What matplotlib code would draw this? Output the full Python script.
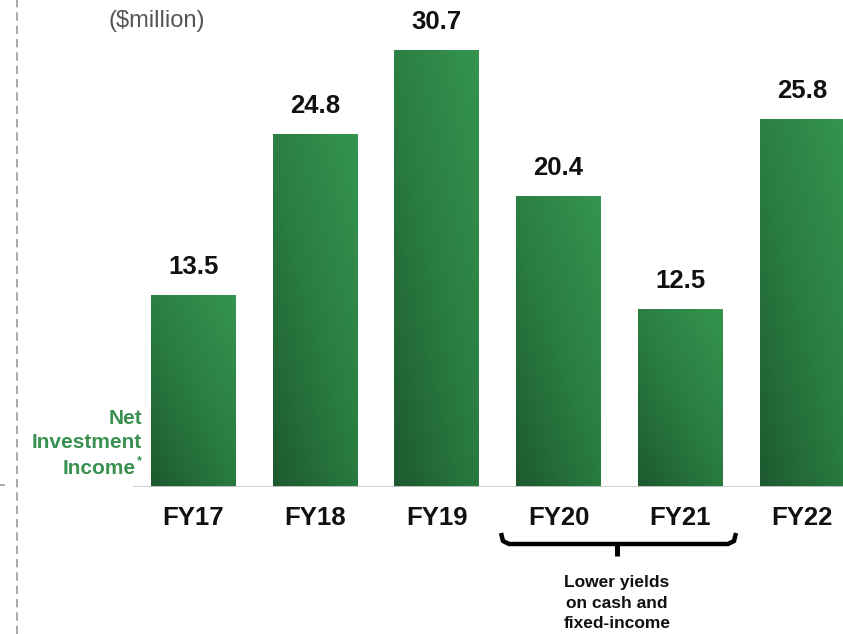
import matplotlib.pyplot as plt
import numpy as np
from matplotlib.colors import LinearSegmentedColormap
from matplotlib.lines import Line2D

plt.rcParams['font.family'] = ['Liberation Sans', 'DejaVu Sans']

# Datos
years = ['FY17', 'FY18', 'FY19', 'FY20', 'FY21', 'FY22']
income = [13.5, 24.8, 30.7, 20.4, 12.5, 25.8]
series_label = ['Net', 'Investment', 'Income']

W, H = 843, 634
fig = plt.figure(figsize=(W / 100, H / 100), dpi=100)

# ejes en coordenadas de pixel
base_px = 487
ax = fig.add_axes([133 / W, (H - base_px) / H, (W - 133) / W, base_px / H])
ax.axis('off')

cmap = LinearSegmentedColormap.from_list('g', ['#1d5a2f', '#2a7d41', '#35944f'])
# degradado diagonal: oscuro abajo-izquierda, claro arriba-derecha
gx, gy = np.meshgrid(np.linspace(0, 1, 60), np.linspace(0, 1, 120))
grad = 0.45 * gx + 0.55 * gy

x = np.arange(len(years))
bars = ax.bar(x, income, width=0.698, color='none', edgecolor='none')
for b, v in zip(bars, income):
    x0, w = b.get_x(), b.get_width()
    im = ax.imshow(grad, cmap=cmap, origin='lower', aspect='auto',
                   extent=[x0, x0 + w, 0, v], vmin=0, vmax=1, zorder=2)
    im.set_clip_path(b)
    ax.text(x0 + w / 2, v + 1.96, f'{v:.1f}', ha='center', va='center',
            fontsize=18.5, fontweight='bold', color='#111111')
ax.set_xlim(-0.497, 5.337)
ax.set_ylim(0, base_px / 14.25)

# linea base
ax.axhline(0, color='#cccccc', lw=2, zorder=3)

# etiquetas de años
for xi, yr in zip(x, years):
    ax.text(xi, -2.18, yr, ha='center', va='center', fontsize=18.5,
            fontweight='bold', color='#111111', clip_on=False)

# texto de unidades
fig.text(157 / W, 1 - 21 / H, '($million)', ha='center', va='center',
         fontsize=17, color='#555555')

# etiqueta de serie (tres lineas + asterisco)
green = '#3a9152'
for i, t in enumerate(series_label):
    xr = 142 if i < 2 else 136
    fig.text(xr / W, 1 - (418 + 25 * i) / H, t, ha='right', va='center',
             fontsize=15, fontweight='bold', color=green)
fig.text(137 / W, 1 - 461 / H, '*', ha='left', va='center', fontsize=9,
         fontweight='bold', color=green)

# linea punteada vertical a la izquierda
fig.add_artist(Line2D([17 / W, 17 / W], [0, 1], color='#999999', lw=1.2,
                      linestyle=(0, (5, 3))))
fig.add_artist(Line2D([0, 4 / W], [1 - 485 / H, 1 - 485 / H], color='#999999', lw=1.2))

# llave bajo FY20-FY21
bx0, bx1, by, bmid = 501, 736, 544, 617
path_x = [bx0, bx0 + 2, bx0 + 8, bmid - 4, bmid, bmid + 4, bx1 - 8, bx1 - 2, bx1]
path_y = [533, 541, by, by, by, by, by, 541, 533]
fig.add_artist(Line2D([p / W for p in path_x], [1 - p / H for p in path_y],
                      color='black', lw=3.2, solid_capstyle='butt', solid_joinstyle='round'))
fig.add_artist(Line2D([bmid / W, bmid / W], [1 - by / H, 1 - 556 / H],
                      color='black', lw=3.6, solid_capstyle='butt'))

fig.text(bmid / W, 1 - 603 / H, 'Lower yields\non cash and\nfixed-income',
         ha='center', va='center', fontsize=12.5, fontweight='bold',
         color='#111111', linespacing=1.48)

fig.savefig('out.png', dpi=100)
